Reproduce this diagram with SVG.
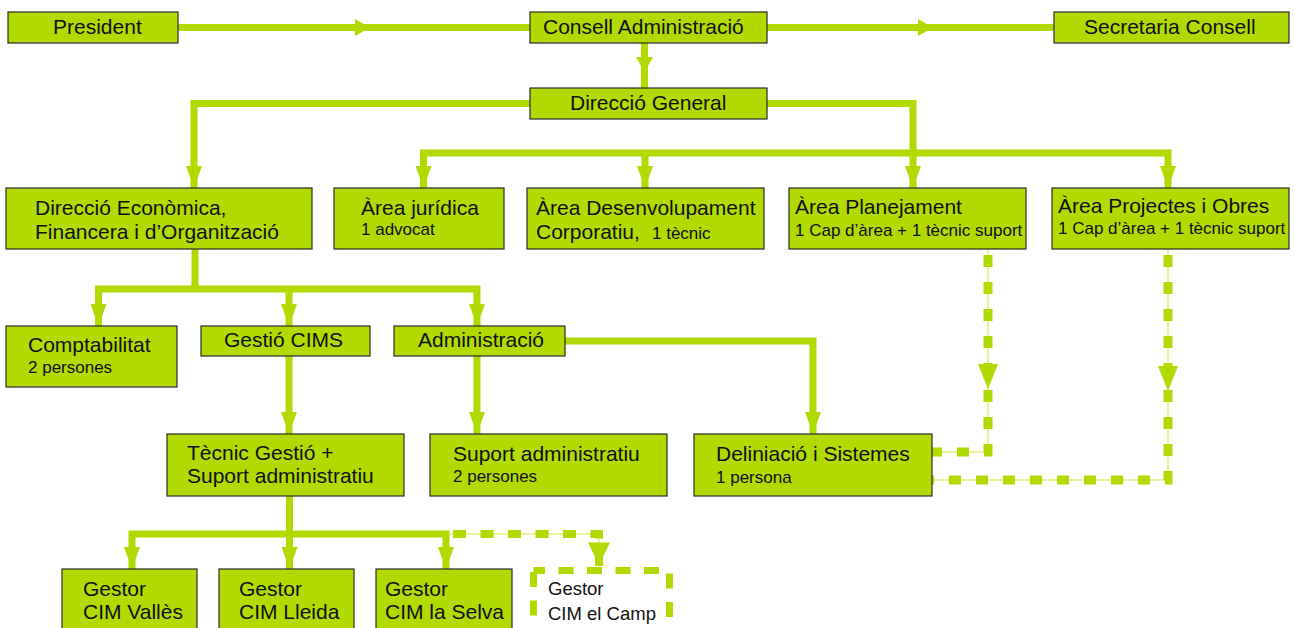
<svg xmlns="http://www.w3.org/2000/svg" width="1294" height="628" viewBox="0 0 1294 628">
<defs>
<path id="ah" d="M-8,-22 L8,-22 L0,0 Z"/>
<path id="am" d="M-8.5,-15 L8.5,-15 L0,0 Z"/>
<path id="ad" d="M-10,-25 L10,-25 L0,0 Z"/>
</defs>
<style>
.box{fill:#b0da00;stroke:#2b2b2b;stroke-width:1.2}
.t{font-family:"Liberation Sans",Arial,sans-serif;font-size:21px;fill:#111}
.s{font-size:17px}
.ln{fill:none;stroke:#b0da00;stroke-width:7;stroke-linejoin:miter}
.hair{fill:none;stroke:#e6f07c;stroke-width:1.6}
.dash{fill:none;stroke:#b0da00;stroke-width:9;stroke-dasharray:12 15}
.arr{fill:#b0da00}
</style>
<rect width="1294" height="628" fill="#ffffff"/>

<g id="connectors">
  <path class="ln" d="M178,27.5 H530"/>
  <use href="#am" class="arr" transform="translate(370,27.5) rotate(-90)"/>
  <path class="ln" d="M767,27.5 H1054"/>
  <use href="#am" class="arr" transform="translate(933,27.5) rotate(-90)"/>
  <path class="ln" d="M644.5,43 V88"/>
  <use href="#am" class="arr" transform="translate(644.5,72)"/>
  <path class="ln" d="M530,103.5 H194 V188"/>
  <use href="#ah" class="arr" transform="translate(194,188)"/>
  <path class="ln" d="M767,103.5 H913 V188"/>
  <use href="#ah" class="arr" transform="translate(913,188)"/>
  <path class="ln" d="M423.5,188 V153 H1168 V188"/>
  <path class="ln" d="M645,153 V188"/>
  <use href="#ah" class="arr" transform="translate(423.5,188)"/>
  <use href="#ah" class="arr" transform="translate(645,188)"/>
  <use href="#ah" class="arr" transform="translate(1168,188)"/>
  <path class="ln" d="M195,249 V289"/>
  <path class="ln" d="M98.5,326 V289 H477 V326"/>
  <path class="ln" d="M289,289 V326"/>
  <use href="#ah" class="arr" transform="translate(98.5,326)"/>
  <use href="#ah" class="arr" transform="translate(289,326)"/>
  <use href="#ah" class="arr" transform="translate(477,326)"/>
  <path class="ln" d="M289,356 V434"/>
  <use href="#ah" class="arr" transform="translate(289,434)"/>
  <path class="ln" d="M477,356 V434"/>
  <use href="#ah" class="arr" transform="translate(477,434)"/>
  <path class="ln" d="M565,341 H813 V434"/>
  <use href="#ah" class="arr" transform="translate(813,434)"/>
  <path class="ln" d="M289.5,496 V534"/>
  <path class="ln" d="M132,569 V534 H446 V569"/>
  <path class="ln" d="M289.5,534 V569"/>
  <use href="#ah" class="arr" transform="translate(132,569)"/>
  <use href="#ah" class="arr" transform="translate(289.5,569)"/>
  <use href="#ah" class="arr" transform="translate(446,569)"/>
  <path class="hair" d="M450,534 H599 V567"/>
  <path class="dash" d="M453,534 H599 V567" style="stroke-width:8;stroke-dasharray:13 14.5"/>
  <use href="#ad" class="arr" transform="translate(599,565) scale(1.1,0.9)"/>
  <path class="hair" d="M988,249 V452 H932"/>
  <path class="dash" d="M988,249 V452 H932" style="stroke-dashoffset:21"/>
  <use href="#ad" class="arr" transform="translate(988,389)"/>
  <path class="hair" d="M1168,249 V480 H932"/>
  <path class="dash" d="M1168,249 V480 H932" style="stroke-dashoffset:21"/>
  <use href="#ad" class="arr" transform="translate(1168,391)"/>
</g>

<g id="president">
  <rect class="box" x="8" y="12" width="170" height="31"/>
  <text class="t" x="53" y="34">President</text>
</g>
<g id="consell">
  <rect class="box" x="530" y="12" width="237" height="31"/>
  <text class="t" x="543" y="34">Consell Administració</text>
</g>
<g id="secretaria">
  <rect class="box" x="1054" y="12" width="235" height="31"/>
  <text class="t" x="1084" y="34">Secretaria Consell</text>
</g>
<g id="direccio-general">
  <rect class="box" x="530" y="88" width="237" height="31"/>
  <text class="t" x="570" y="110">Direcció General</text>
</g>
<g id="direccio-economica">
  <rect class="box" x="6" y="188" width="306" height="61"/>
  <text class="t" x="35" y="215">Direcció Econòmica,</text>
  <text class="t" x="35" y="239">Financera i d’Organització</text>
</g>
<g id="area-juridica">
  <rect class="box" x="334" y="188" width="170" height="61"/>
  <text class="t" x="361" y="215">Àrea jurídica</text>
  <text class="t s" x="361" y="235">1 advocat</text>
</g>
<g id="area-desenvolupament">
  <rect class="box" x="527" y="188" width="237" height="61"/>
  <text class="t" x="536" y="215">Àrea Desenvolupament</text>
  <text class="t" x="536" y="239">Corporatiu,<tspan class="s" x="652">1 tècnic</tspan></text>
</g>
<g id="area-planejament">
  <rect class="box" x="789" y="188" width="237" height="61"/>
  <text class="t" x="795" y="214">Àrea Planejament</text>
  <text class="t s" x="795" y="236">1 Cap d’àrea + 1 tècnic suport</text>
</g>
<g id="area-projectes">
  <rect class="box" x="1052" y="188" width="237" height="61"/>
  <text class="t" x="1058" y="213">Àrea Projectes i Obres</text>
  <text class="t s" x="1058" y="234">1 Cap d’àrea + 1 tècnic suport</text>
</g>
<g id="comptabilitat">
  <rect class="box" x="6" y="326" width="171" height="61"/>
  <text class="t" x="28" y="352">Comptabilitat</text>
  <text class="t s" x="28" y="373">2 persones</text>
</g>
<g id="gestio-cims">
  <rect class="box" x="201" y="326" width="169" height="30"/>
  <text class="t" x="224" y="347">Gestió CIMS</text>
</g>
<g id="administracio">
  <rect class="box" x="394" y="326" width="171" height="30"/>
  <text class="t" x="418" y="347">Administració</text>
</g>
<g id="tecnic-gestio">
  <rect class="box" x="167" y="434" width="237" height="62"/>
  <text class="t" x="187" y="460">Tècnic Gestió +</text>
  <text class="t" x="187" y="483">Suport administratiu</text>
</g>
<g id="suport-administratiu">
  <rect class="box" x="430" y="434" width="237" height="62"/>
  <text class="t" x="453" y="461">Suport administratiu</text>
  <text class="t s" x="453" y="482">2 persones</text>
</g>
<g id="deliniacio">
  <rect class="box" x="694" y="434" width="238" height="62"/>
  <text class="t" x="716" y="461">Deliniació i Sistemes</text>
  <text class="t s" x="716" y="483">1 persona</text>
</g>
<g id="gestor-valles">
  <rect class="box" x="62" y="569" width="135" height="72"/>
  <text class="t" x="83" y="596">Gestor</text>
  <text class="t" x="83" y="619">CIM Vallès</text>
</g>
<g id="gestor-lleida">
  <rect class="box" x="219" y="569" width="135" height="72"/>
  <text class="t" x="239" y="596">Gestor</text>
  <text class="t" x="239" y="619">CIM Lleida</text>
</g>
<g id="gestor-selva">
  <rect class="box" x="376" y="569" width="136" height="72"/>
  <text class="t" x="385" y="596">Gestor</text>
  <text class="t" x="385" y="619">CIM la Selva</text>
</g>
<g id="gestor-camp">
  <rect x="533.5" y="570.5" width="136" height="70" fill="#ffffff" stroke="#b0da00" stroke-width="7" stroke-dasharray="15 13.5" stroke-dashoffset="3.5"/>
  <text class="t" x="548" y="595" style="font-size:18.5px">Gestor</text>
  <text class="t" x="548" y="620" style="font-size:18.5px">CIM el Camp</text>
</g>
</svg>
